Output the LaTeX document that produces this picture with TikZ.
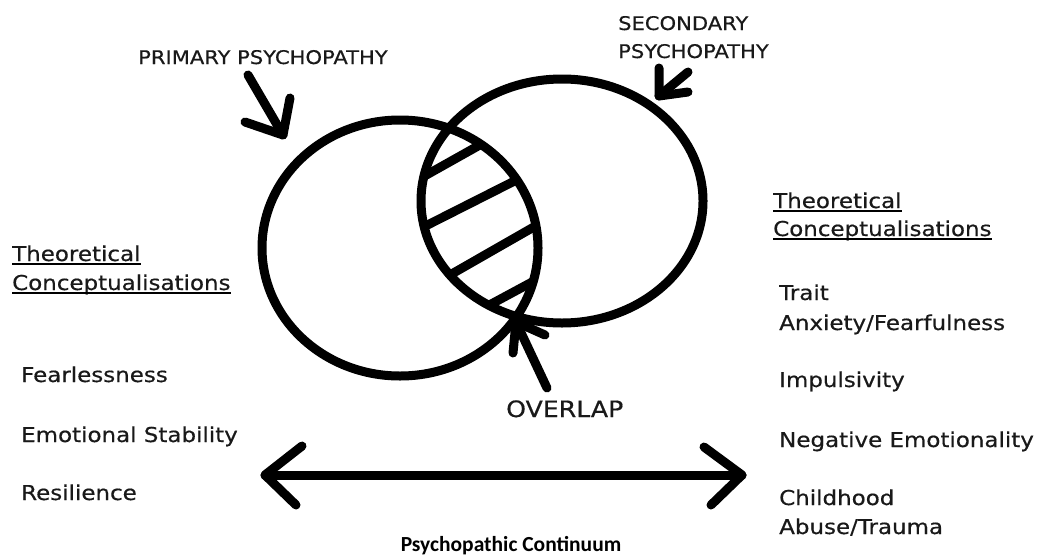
\documentclass[tikz,border=0pt]{standalone}
\usepackage{fontspec}
\newfontfamily\labfont[FakeStretch=1.12,FakeBold=0.5]{DejaVu Sans}
\newfontfamily\contfont{Carlito}
\begin{document}
\begin{tikzpicture}[x=1pt,y=-1pt,
  stroke/.style={line width=9pt, line cap=round, line join=round},
  txt/.style={font=\labfont\fontsize{20.5}{24}\selectfont, anchor=base west, inner sep=0pt, text=black!90},
  capslab/.style={font=\labfont\fontsize{18.8}{22}\selectfont, anchor=base west, inner sep=0pt, text=black!90},
  uline/.style={line width=1.4pt},
]
\fill[white] (0,0) rectangle (1040,557);
\useasboundingbox (0,0) rectangle (1040,557);

% hatching in the overlap
\begin{scope}
  \clip (400,248) ellipse [x radius=138, y radius=128];
  \clip (562,201) ellipse [x radius=141, y radius=122];
  \draw[stroke] (380,201) -- (560,100);
  \draw[stroke] (380,249) -- (560,158);
  \draw[stroke] (380,315) -- (560,212);
  \draw[stroke] (430,337) -- (560,267);
\end{scope}

% circles
\draw[stroke] (400,248) ellipse [x radius=138, y radius=128];
\draw[stroke] (562,201) ellipse [x radius=141, y radius=122];

% arrow coordinates
\coordinate (pTail) at (248,75);  \coordinate (pTip) at (283,135);
\coordinate (pA1) at (290,98);    \coordinate (pA2) at (245,122);
\coordinate (sTail) at (688,72);  \coordinate (sTip) at (659,96);
\coordinate (sA1) at (659,68);    \coordinate (sA2) at (688,92);
\coordinate (oTail) at (547,388); \coordinate (oTip) at (516,322);
\coordinate (oA1) at (513,353);   \coordinate (oA2) at (545,335);
\coordinate (cL) at (265,475);    \coordinate (cR) at (742,475);
\coordinate (cLA1) at (302,446);  \coordinate (cLA2) at (296,505);
\coordinate (cRA1) at (704,447);  \coordinate (cRA2) at (711,505);

\draw[stroke] (pTail) -- (pTip);
\draw[stroke] (pA1) -- (pTip) -- (pA2);
\draw[stroke] (sTail) -- (sTip);
\draw[stroke] (sA1) -- (sTip) -- (sA2);
\draw[stroke] (oTail) -- (oTip);
\draw[stroke] (oA1) -- (oTip) -- (oA2);
\draw[stroke] (cL) -- (cR);
\draw[stroke] (cLA1) -- (cL) -- (cLA2);
\draw[stroke] (cRA1) -- (cR) -- (cRA2);

% labels
\node[capslab] (prim) at (138,64) {PRIMARY PSYCHOPATHY};
\node[capslab] (sec1) at (618,30) {SECONDARY};
\node[capslab] (sec2) at (618,58) {PSYCHOPATHY};
\node[txt, font=\labfont\fontsize{22.5}{26}\selectfont] (ovl) at (506,417) {OVERLAP};

\node[txt] (lt1) at (12,261) {Theoretical\ };
\node[txt] (lt2) at (12,290) {Conceptualisations};
\draw[uline] ([yshift=-3pt]lt1.base west) -- ([yshift=-3pt]lt1.base east);
\draw[uline] ([yshift=-3pt]lt2.base west) -- ([yshift=-3pt]lt2.base east);
\node[txt] (l1) at (21,382) {Fearlessness};
\node[txt] (l2) at (21,442) {Emotional Stability};
\node[txt] (l3) at (21,500) {Resilience};

\node[txt] (rt1) at (773,208) {Theoretical\ };
\node[txt] (rt2) at (773,236) {Conceptualisations};
\draw[uline] ([yshift=-3pt]rt1.base west) -- ([yshift=-3pt]rt1.base east);
\draw[uline] ([yshift=-3pt]rt2.base west) -- ([yshift=-3pt]rt2.base east);
\node[txt] (r1a) at (779,300) {Trait};
\node[txt] (r1b) at (779,330) {Anxiety/Fearfulness};
\node[txt] (r2) at (779,387) {Impulsivity};
\node[txt] (r3) at (779,447) {Negative Emotionality};
\node[txt] (r4a) at (779,505) {Childhood};
\node[txt] (r4b) at (779,534) {Abuse/Trauma};

\node[font=\contfont\bfseries\fontsize{21.5}{24}\selectfont, anchor=base, inner sep=0pt] (cont) at (511,551) {Psychopathic Continuum};
\end{tikzpicture}
\end{document}
